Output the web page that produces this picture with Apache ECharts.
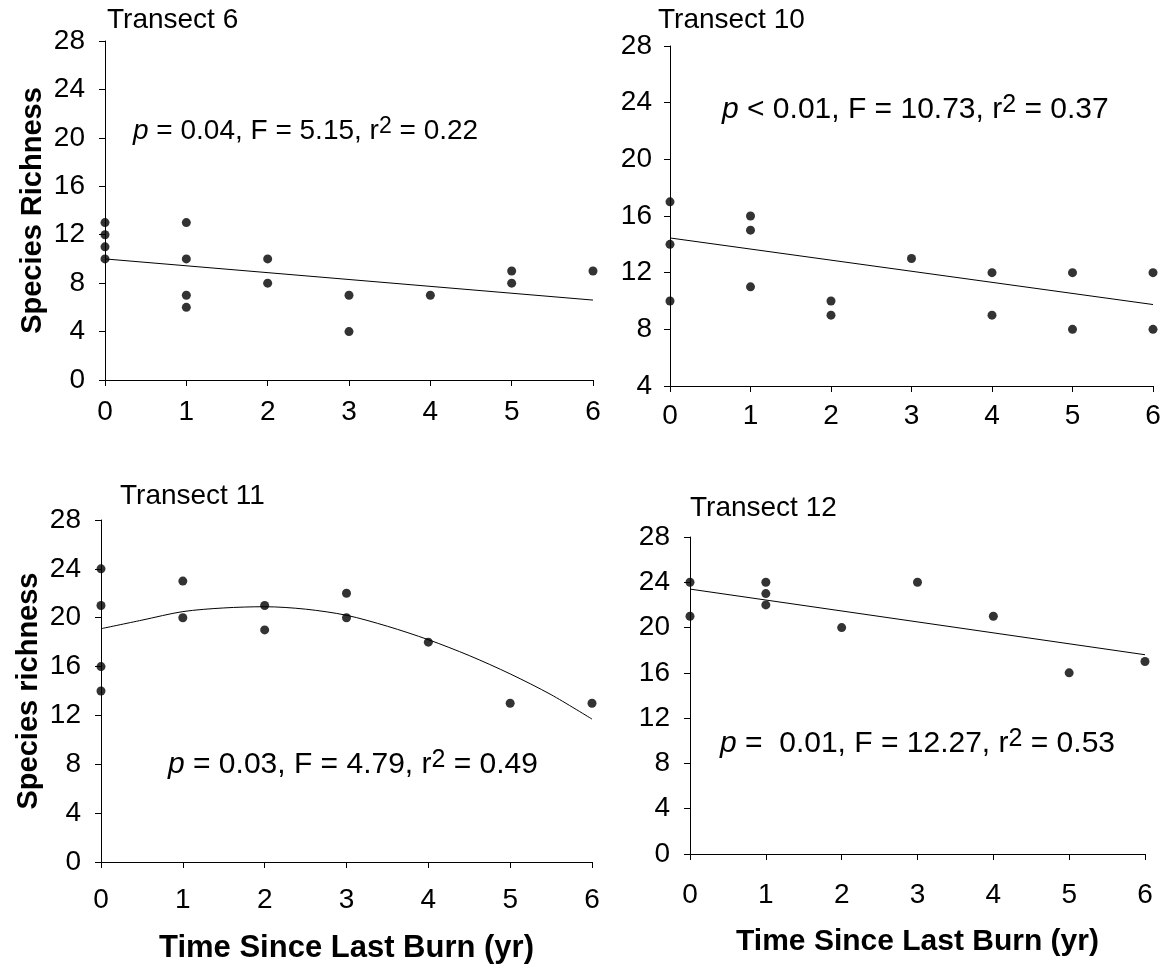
<!DOCTYPE html>
<html>
<head>
<meta charset="utf-8">
<script src="https://cdn.jsdelivr.net/npm/echarts@6/dist/echarts.min.js"></script>
<style>
  html, body { margin: 0; padding: 0; background: #fff; }
  #main { width: 1164px; height: 972px; }
</style>
</head>
<body>
<div id="main"></div>
<script>
// years since burn on every x axis
const yearTicks = [0, 1, 2, 3, 4, 5, 6];

// observed species richness, [year, richness]
const t6Points = [[0,13],[0,12],[0,11],[0,10],[1,13],[1,10],[1,7],[1,6],[2,10],[2,8],[3,7],[3,4],[4,7],[5,9],[5,8],[6,9]];
const t10Points = [[0,17],[0,14],[0,10],[1,16],[1,15],[1,11],[2,10],[2,9],[3,13],[4,12],[4,9],[5,12],[5,8],[6,12],[6,8]];
const t11Points = [[0,24],[0,21],[0,16],[0,14],[1,23],[1,20],[2,21],[2,19],[3,22],[3,20],[4,18],[5,13],[6,13]];
const t12Points = [[0,24],[0,21],[1,24],[1,23],[1,22],[2,20],[3,24],[4,21],[5,16],[6,17]];

// fitted lines
const t6Fit = [[0,10.0],[6,6.6]];
const t10Fit = [[0,14.45],[6,9.75]];
const t11Fit = [[0,19.1],[0.5,19.8],[1,20.5],[1.5,20.8],[2,20.9],[2.5,20.7],[3,20.2],[3.5,19.3],[4,18.2],[4.5,16.9],[5,15.4],[5.5,13.7],[6,11.7]];
const t12Fit = [[0,23.4],[6,17.6]];

const panelTitles = ['Transect 6', 'Transect 10', 'Transect 11', 'Transect 12'];
const statsText = [
  ['0.04', '5.15', '0.22', '='],
  ['0.01', '10.73', '0.37', '<'],
  ['0.03', '4.79', '0.49', '='],
  [' 0.01', '12.27', '0.53', '=']
];

const FONT = "'Liberation Sans', Arial, sans-serif";

var myChart = echarts.init(document.getElementById('main'));

// grid boxes in pixels
const grids = [
  { left: 105, top: 41, width: 488, height: 339 },
  { left: 670, top: 46, width: 483, height: 340 },
  { left: 101, top: 520, width: 491, height: 342 },
  { left: 690, top: 537, width: 455, height: 317 }
];
const yMin = [0, 4, 0, 0];
const xLabelMargin = [18, 16, 24, 27];
const yLabelMargin = [20, 18, 20, 20];

function xAxis(i) {
  var ax = {
    gridIndex: i, type: 'value', min: 0, max: 6, interval: 1,
    axisLine: { lineStyle: { color: '#000', width: 1 } },
    axisTick: { length: 6, lineStyle: { color: '#000' } },
    splitLine: { show: false },
    axisLabel: { fontSize: 28, color: '#000', fontFamily: FONT, margin: xLabelMargin[i] }
  };
  if (i >= 2) {
    ax.name = 'Time Since Last Burn (yr)';
    ax.nameLocation = 'middle';
    ax.nameGap = i == 2 ? 71 : 73;
    ax.nameTextStyle = { fontSize: i == 2 ? 31 : 30, fontWeight: 'bold', color: '#000', fontFamily: FONT };
  }
  return ax;
}

function yAxis(i) {
  var ax = {
    gridIndex: i, type: 'value', min: yMin[i], max: 28, interval: 4,
    axisLine: { show: true, lineStyle: { color: '#000', width: 1 } },
    axisTick: { show: true, length: 6, lineStyle: { color: '#000' } },
    splitLine: { show: false },
    axisLabel: { fontSize: 28, color: '#000', fontFamily: FONT, margin: yLabelMargin[i] }
  };
  if (i == 0 || i == 2) {
    ax.name = i == 0 ? 'Species Richness' : 'Species richness';
    ax.nameLocation = 'middle';
    ax.nameGap = 58;
    ax.nameTextStyle = { fontSize: 29, fontWeight: 'bold', color: '#000', fontFamily: FONT };
  }
  return ax;
}

function dots(i, data) {
  return {
    type: 'scatter', xAxisIndex: i, yAxisIndex: i, data: data,
    symbol: 'circle', symbolSize: 9, itemStyle: { color: '#000' }, z: 3
  };
}
function fit(i, data, smooth) {
  return {
    type: 'line', xAxisIndex: i, yAxisIndex: i, data: data, smooth: smooth,
    showSymbol: false, symbol: 'none', lineStyle: { color: '#000', width: 1 }, z: 2
  };
}

// where the titles and stats sit
const titlePos = [[107, 6], [658, 6], [120, 482], [690, 494]];
const statsPos = [[133, 115], [722, 93], [168, 748], [720, 727]];
const statsSize = [28, 30, 30, 30];

var titles = [];
panelTitles.forEach(function (t, i) {
  titles.push({
    text: t, left: titlePos[i][0], top: titlePos[i][1], padding: 0,
    textStyle: { fontSize: 28, fontWeight: 'normal', color: '#000', fontFamily: FONT }
  });
});
statsText.forEach(function (s, i) {
  var fs = statsSize[i];
  titles.push({
    text: '{i|p} ' + s[3] + ' ' + s[0] + ', F = ' + s[1] + ', r{s|2} = ' + s[2],
    left: statsPos[i][0], top: statsPos[i][1], padding: 0,
    textStyle: {
      fontSize: fs, fontWeight: 'normal', color: '#000', fontFamily: FONT, lineHeight: fs + 4,
      rich: {
        i: { fontSize: fs, fontStyle: 'italic', fontFamily: FONT, color: '#000', lineHeight: fs + 4 },
        s: { fontSize: fs - 5, fontFamily: FONT, color: '#000', verticalAlign: 'top', lineHeight: fs - 5, padding: [0, 0, 14, 0] }
      }
    }
  });
});

myChart.setOption({
  backgroundColor: '#fff',
  animation: false,
  title: titles,
  grid: grids.map(function (g) {
    return Object.assign({ containLabel: false, outerBoundsMode: 'none' }, g);
  }),
  xAxis: [0, 1, 2, 3].map(xAxis),
  yAxis: [0, 1, 2, 3].map(yAxis),
  series: [
    fit(0, t6Fit, false), dots(0, t6Points),
    fit(1, t10Fit, false), dots(1, t10Points),
    fit(2, t11Fit, 0.3), dots(2, t11Points),
    fit(3, t12Fit, false), dots(3, t12Points)
  ]
});
</script>
</body>
</html>
